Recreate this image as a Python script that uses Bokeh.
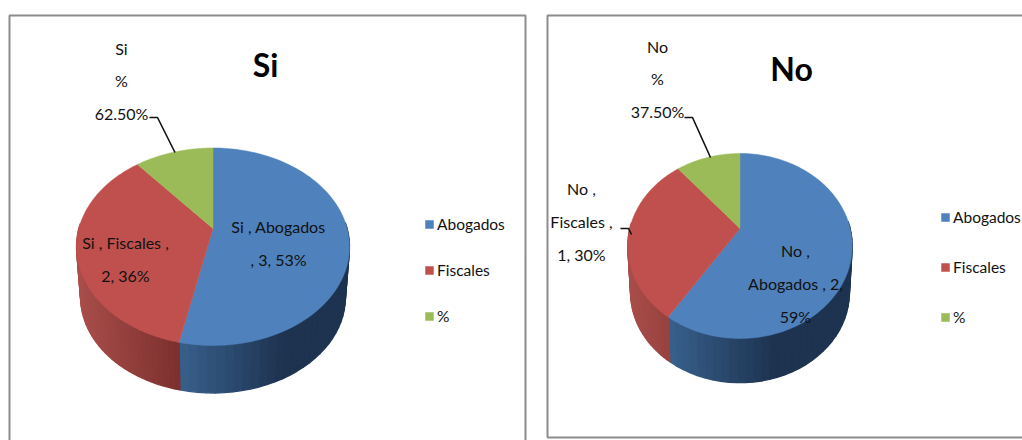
import numpy as np
from bokeh.core.properties import value
from bokeh.embed import file_html
from bokeh.models import Legend, LegendItem, Range1d
from bokeh.plotting import figure
from bokeh.resources import INLINE

categories = ["Abogados", "Fiscales", "%"]
si_values = [3, 2, 0.625]
no_values = [2, 1, 0.375]
si_title = "Si"
no_title = "No"
si_labels = ["Si , Abogados\n, 3, 53%", "Si , Fiscales ,\n2, 36%", "Si\n%\n62.50%"]
no_labels = ["No ,\nAbogados , 2,\n59%", "No ,\nFiscales ,\n1, 30%", "No\n%\n37.50%"]
colors = ["#4f81bd", "#c0504d", "#9bbb59"]
wall_left = ["#38608c", "#a94e4b", "#86a04b"]
wall_right = ["#1d3350", "#7a2f2d", "#5f7a2e"]

FONT_NAME = "Lato"
FONT = value(FONT_NAME)
TXT = "#111111"

W, H = 1022, 440
p = figure(width=W, height=H, output_backend="svg", toolbar_location=None,
           x_range=Range1d(0, W), y_range=Range1d(H, 0),
           min_border=0, min_border_left=0, min_border_right=0, min_border_top=0, min_border_bottom=0)
p.axis.visible = False
p.grid.visible = False
p.outline_line_color = None
p.background_fill_color = "white"


def hexmix(a, b, t):
    ca = [int(a[i:i + 2], 16) for i in (1, 3, 5)]
    cb = [int(b[i:i + 2], 16) for i in (1, 3, 5)]
    return "#%02x%02x%02x" % tuple(int(round(x + (y - x) * t)) for x, y in zip(ca, cb))


def pie(vals, g):
    """Perspective 3D pie: g holds the placement of this panel's drum."""
    cx, cy, top, bot, half, depth, shrink = g
    r_near, r_far = bot - cy, cy - top
    k = (r_far - r_near) / (r_far + r_near)
    b = r_near * (1 + k)
    a = half * np.sqrt(1 - k * k)

    def edge(th):
        u, v = np.sin(th), -np.cos(th)
        d = 1 + k * v
        return a * u / d, b * v / d

    fr = np.cumsum([0] + list(vals)) / sum(vals) * 2 * np.pi
    xs, ys, cs = [], [], []
    for i in range(len(vals)):
        n = 60
        th = np.linspace(fr[i], fr[i + 1], n + 1)
        ex, ey = edge(th)
        front = ey > -5
        if front.sum() < 2:
            continue
        xmin = ex[front].min()
        for j in range(n):
            if not (front[j] or front[j + 1]):
                continue
            t = np.clip(((ex[j] + ex[j + 1]) / 2 - xmin) / 105, 0, 1)
            xs.append([cx + ex[j], cx + ex[j + 1], cx + ex[j + 1] * shrink, cx + ex[j] * shrink])
            ys.append([cy + ey[j], cy + ey[j + 1], cy + depth + ey[j + 1] * shrink, cy + depth + ey[j] * shrink])
            cs.append(hexmix(wall_left[i], wall_right[i], t))
    p.patches(xs, ys, fill_color=cs, line_color=cs, line_width=1.3)
    tx, ty = [], []
    for i in range(len(vals)):
        th = np.linspace(fr[i], fr[i + 1], 120)
        ex, ey = edge(th)
        tx.append([cx] + list(cx + ex))
        ty.append([cy] + list(cy + ey))
    return p.patches(tx, ty, fill_color=colors, line_color=colors, line_width=0.5)


def labels(texts, xs, ys, size="16px"):
    p.text(xs, ys, text=texts, text_font=FONT, text_font_size=size, text_color=TXT,
           text_align="center", text_baseline="middle", text_line_height=1.72)


def legend(r, x, bottom, spacing):
    lg = Legend(items=[LegendItem(label=c, renderers=[r], index=i) for i, c in enumerate(categories)],
                location=(x, H - bottom), orientation="vertical", background_fill_alpha=0,
                border_line_color=None, glyph_width=10, glyph_height=10, spacing=spacing, margin=0, padding=0,
                label_text_font=FONT_NAME, label_text_font_size="15.5px",
                label_text_color=TXT, label_standoff=3, label_height=18)
    p.add_layout(lg, "center")


p.quad(left=[9, 547], right=[525, 1030], top=[15, 15], bottom=[445, 437],
       fill_color="white", line_color="#8c8c8c", line_width=2)

r1 = pie(si_values, (212.5, 228, 147.5, 345, 136.5, 51, 0.97))
r2 = pie(no_values, (739.5, 228, 153, 338, 112.2, 47, 0.975))

p.multi_line([[149, 157, 174.5], [684, 692, 710], [620, 628, 631]],
             [[117, 117, 152], [117, 117, 157], [228, 228, 234]], line_color="#111111", line_width=1.6)

labels(si_labels, [278, 125, 121], [242.5, 258.5, 80.5])
labels(no_labels, [795, 581, 657], [283, 221, 78.5])

p.text([265, 791], [64, 68], text=[si_title, no_title], text_font=FONT, text_font_size="32px",
       text_font_style="bold", text_color="#000000", text_align="center", text_baseline="middle")

legend(r1, 424, 325, 28)
legend(r2, 940, 326, 32)

open("out.html", "w").write(file_html(p, INLINE))
